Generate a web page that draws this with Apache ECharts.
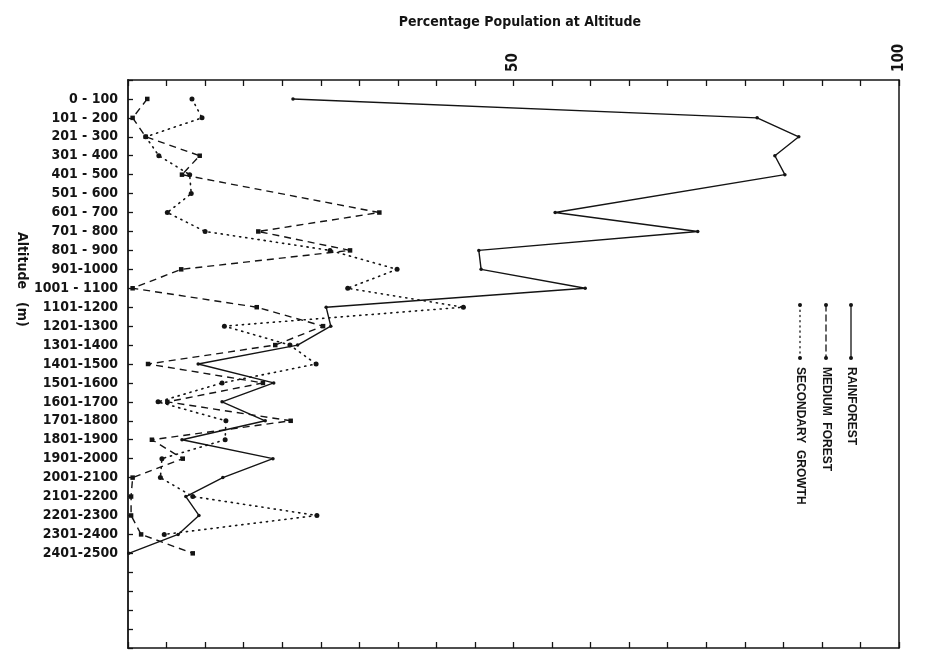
<!DOCTYPE html>
<html>
<head>
<meta charset="utf-8">
<script src="https://cdn.jsdelivr.net/npm/echarts@6/dist/echarts.min.js"></script>
<style>
  html, body { margin: 0; padding: 0; background: #fff; }
  #chart { width: 927px; height: 659px; }
</style>
</head>
<body>
<div id="chart"></div>
<script>
// Altitude bands (metres), listed from the lowest band downward
const altitudeBands = [
  '0 - 100', '101 - 200', '201 - 300', '301 - 400', '401 - 500',
  '501 - 600', '601 - 700', '701 - 800', '801 - 900', '901-1000',
  '1001 - 1100', '1101-1200', '1201-1300', '1301-1400', '1401-1500',
  '1501-1600', '1601-1700', '1701-1800', '1801-1900', '1901-2000',
  '2001-2100', '2101-2200', '2201-2300', '2301-2400', '2401-2500'
];

// Percentage of each population found in every altitude band (null = no point)
const rainforest = [
  21.4, 81.6, 87.0, 83.9, 85.2, null, 55.4, 73.9, 45.5, 45.8,
  59.3, 25.7, 26.3, 22.0, 9.1, 18.9, 12.2, 17.8, 7.0, 18.8,
  12.3, 7.5, 9.2, 6.5, 0.1
];
const mediumForest = [
  2.5, 0.6, 2.3, 9.3, 7.0, null, 32.6, 16.9, 28.8, 6.9,
  0.6, 16.7, 25.3, 19.1, 2.6, 17.5, 5.1, 21.1, 3.1, 7.1,
  0.6, 0.4, 0.4, 1.7, 8.4
];
const secondaryGrowth = [
  8.3, 9.6, 2.3, 4.0, 8.0, 8.2, 5.1, 10.0, 26.2, 34.9,
  28.5, 43.5, 12.5, 21.0, 24.4, 12.2, 3.9, 12.7, 12.6, 4.4,
  4.2, 8.4, 24.5, 4.7, null
];

// Value-axis ticks that carry a printed label
const percentLabels = [50, 100];

const seriesNames = ['RAINFOREST', 'MEDIUM  FOREST', 'SECONDARY  GROWTH'];

const INK = '#141414';
const FONT = '"DejaVu Sans Condensed", "DejaVu Sans", sans-serif';

// Band k sits at row k+1; the scale runs on to row 30 below the last band
const ROWS = 30;
function toPoints(values) {
  const pts = [];
  values.forEach((v, i) => { if (v !== null) pts.push([v, i + 1]); });
  return pts;
}

const chart = echarts.init(document.getElementById('chart'), null, { renderer: 'canvas' });

const grid = { left: 128, right: 28, top: 80, bottom: 11 };

// Legend keys, drawn vertically beside the plot
const legendKeys = [
  { x: 851, dash: null, name: seriesNames[0] },
  { x: 826, dash: [6, 4], name: seriesNames[1] },
  { x: 800, dash: [1.2, 4], name: seriesNames[2] }
];
const legendGraphics = [];
legendKeys.forEach(k => {
  legendGraphics.push({
    type: 'line', silent: true,
    shape: { x1: k.x, y1: 305, x2: k.x, y2: 358 },
    style: { stroke: INK, lineWidth: 1.3, lineDash: k.dash, lineCap: 'round' }
  });
  [305, 358].forEach(y => legendGraphics.push({
    type: 'circle', silent: true,
    shape: { cx: k.x, cy: y, r: 2 },
    style: { fill: INK }
  }));
  legendGraphics.push({
    type: 'text', silent: true,
    x: k.x, y: 367, rotation: -Math.PI / 2,
    style: {
      text: k.name, fill: INK,
      font: 'bold 12px "Liberation Sans", Arial, sans-serif',
      textAlign: 'left', textVerticalAlign: 'middle'
    }
  });
});

const tickStyle = { show: true, inside: true, length: 6, lineStyle: { color: INK, width: 1.3 } };

const option = {
  backgroundColor: '#fff',
  animation: false,
  title: {
    text: 'Percentage Population at Altitude',
    left: 515, top: 10, textAlign: 'center',
    textStyle: { fontFamily: FONT, fontSize: 14, fontWeight: 'bold', color: INK }
  },
  grid: grid,
  xAxis: [
    {
      type: 'value', position: 'top', min: 0, max: 100, interval: 5,
      axisLine: { show: true, onZero: false, lineStyle: { color: INK, width: 1.5 } },
      axisTick: tickStyle,
      axisLabel: {
        rotate: -90, margin: 8, color: INK,
        fontFamily: FONT, fontSize: 15, fontWeight: 'bold',
        formatter: v => (percentLabels.indexOf(v) >= 0 ? String(v) : '')
      },
      splitLine: { show: false }
    },
    {
      type: 'value', position: 'bottom', min: 0, max: 100, interval: 5,
      axisLine: { show: true, onZero: false, lineStyle: { color: INK, width: 1.5 } },
      axisTick: tickStyle,
      axisLabel: { show: false },
      splitLine: { show: false }
    }
  ],
  yAxis: [
    {
      type: 'value', inverse: true, min: 0, max: ROWS, interval: 1,
      axisLine: { show: true, onZero: false, lineStyle: { color: INK, width: 1.8 } },
      axisTick: { show: true, inside: true, length: 5, lineStyle: { color: INK, width: 1.3 } },
      axisLabel: {
        margin: 10, color: INK,
        fontFamily: FONT, fontSize: 14, fontWeight: 'bold',
        formatter: v => altitudeBands[v - 1] || ''
      },
      splitLine: { show: false }
    },
    {
      type: 'value', inverse: true, min: 0, max: ROWS, position: 'right',
      axisLine: { show: true, onZero: false, lineStyle: { color: INK, width: 1.5 } },
      axisTick: { show: false },
      axisLabel: { show: false },
      splitLine: { show: false }
    }
  ],
  series: [
    {
      name: seriesNames[0], type: 'line', xAxisIndex: 0, yAxisIndex: 0,
      data: toPoints(rainforest),
      symbol: 'circle', symbolSize: 3.5,
      itemStyle: { color: INK },
      lineStyle: { color: INK, width: 1.4 }
    },
    {
      name: seriesNames[1], type: 'line', xAxisIndex: 0, yAxisIndex: 0,
      data: toPoints(mediumForest),
      symbol: 'rect', symbolSize: 4.5,
      itemStyle: { color: INK },
      lineStyle: { color: INK, width: 1.4, type: [7, 5] }
    },
    {
      name: seriesNames[2], type: 'line', xAxisIndex: 0, yAxisIndex: 0,
      data: toPoints(secondaryGrowth),
      symbol: 'circle', symbolSize: 5,
      itemStyle: { color: INK },
      lineStyle: { color: INK, width: 1.6, type: [1.2, 5], cap: 'round' }
    },
    {
      // keeps the lower percentage scale active so its ticks are drawn
      type: 'line', xAxisIndex: 1, yAxisIndex: 1, silent: true,
      data: [], showSymbol: false
    }
  ],
  graphic: [
    {
      type: 'text', silent: true,
      x: 22, y: 232, rotation: -Math.PI / 2,
      style: {
        text: 'Altitude   (m)', fill: INK,
        font: 'bold 14px ' + FONT,
        textAlign: 'left', textVerticalAlign: 'middle'
      }
    }
  ].concat(legendGraphics)
};

chart.setOption(option);
</script>
</body>
</html>
